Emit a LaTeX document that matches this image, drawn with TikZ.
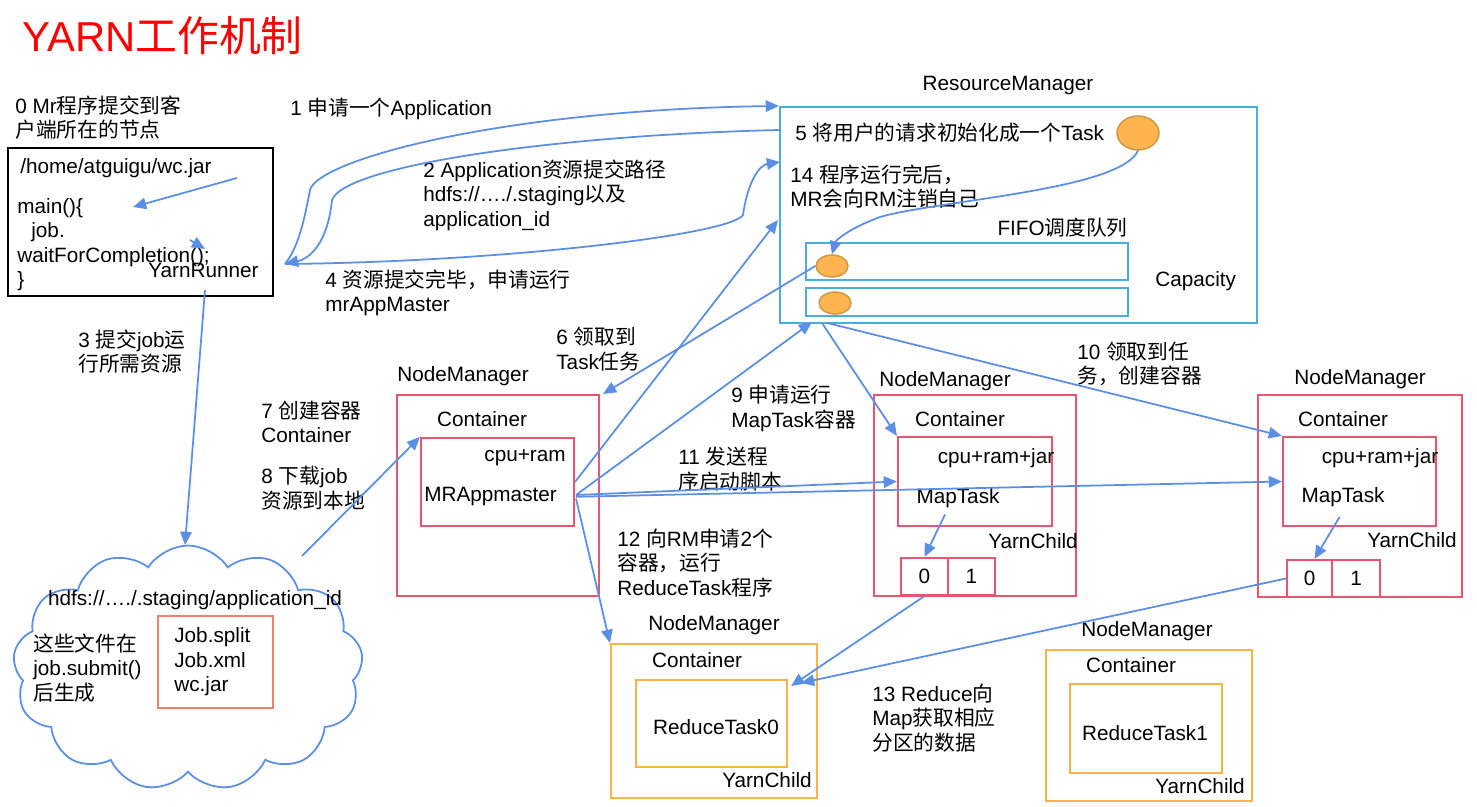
\documentclass[tikz,border=0pt]{standalone}
\usepackage{fontspec}
\setmainfont{Liberation Sans}
\newfontfamily\zhfont{Noto Sans CJK SC}
\newcommand{\zh}[1]{{\zhfont #1}}
\usetikzlibrary{arrows.meta,fit,shapes.geometric,shapes.symbols}
\definecolor{arrowblue}{RGB}{91,143,230}
\definecolor{rmblue}{RGB}{75,172,222}
\definecolor{nmred}{RGB}{232,85,110}
\definecolor{nmorange}{RGB}{248,180,70}
\definecolor{taskfill}{RGB}{255,180,80}
\definecolor{taskline}{RGB}{205,150,70}
\definecolor{jobred}{RGB}{238,130,105}
\definecolor{titlered}{RGB}{255,0,0}

\begin{document}
\begin{tikzpicture}[
    x=0.02cm, y=-0.02cm,
    every node/.style={font=\fontsize{11.8}{13.9}\selectfont, inner sep=0pt},
    txt/.style={anchor=west, align=left},
    rmbox/.style={draw=rmblue, line width=1.2pt},
    nmbox/.style={draw=nmred, line width=1.2pt},
    rbox/.style={draw=nmorange, line width=1.2pt},
    task/.style={ellipse, draw=taskline, fill=taskfill, line width=0.8pt},
    arr/.style={draw=arrowblue, line width=1pt, -{Triangle[length=7.5pt,width=6.5pt]}}
    ]
    \path[use as bounding box, fill=white] (0,0) rectangle (1477,807);
    \node[anchor=west, text=titlered, font=\fontsize{23.8}{28}\selectfont] (title) at (22,36) {YARN\zh{工作机制}};

    % client
    \node[txt] (step0) at (15,117.5) {0 Mr\zh{程序提交到客}\\\zh{户端所在的节点}};
    \node[draw=black, line width=1.4pt, fit={(8,148) (273,296)}] (client) {};
    \node[txt] (jar) at (20,168) {/home/atguigu/wc.jar};
    \node[txt] (code) at (17,244.5) {main()\{\\\hspace*{0.28cm}job.\\waitForCompletion();\\\}};
    \node[txt] (runner) at (148,270) {YarnRunner};

    % hdfs
    \node[cloud, draw=arrowblue, line width=1pt, cloud puffs=13, cloud puff arc=115, aspect=1.45,
          minimum width=7cm, minimum height=4.9cm] (hdfs) at (188,668) {};
    \node (staging) at (195,600) {hdfs://…./.staging/application\_id};
    \node[draw=jobred, line width=1.2pt, fit={(158,616) (273,708)}] (jobfiles) {};
    \node[txt] (files) at (174,662) {Job.split\\Job.xml\\wc.jar};
    \node[txt] (submit) at (33,668) {\zh{这些文件在}\\job.submit()\\\zh{后生成}};

    % resource manager
    \node (rmlabel) at (1008,86) {ResourceManager};
    \node[rmbox, fit={(780,107) (1257,323)}] (rm) {};
    \node[txt] (step5) at (795,133) {5 \zh{将用户的请求初始化成一个}Task};
    \node[task, minimum width=0.84cm, minimum height=0.68cm] (task) at (1138,133) {};
    \node[txt] (step14) at (790,186.5) {14 \zh{程序运行完后，}\\MR\zh{会向}RM\zh{注销自己}};
    \node[anchor=east] (fifo) at (1128,228) {FIFO\zh{调度队列}};
    \node[rmbox, fit={(806,243) (1128,280)}] (queue1) {};
    \node[rmbox, fit={(806,288) (1128,316)}] (queue2) {};
    \node[task, minimum width=0.64cm, minimum height=0.44cm] (job1) at (832,266) {};
    \node[task, minimum width=0.64cm, minimum height=0.44cm] (job2) at (835,303) {};
    \node[txt] (capacity) at (1155,281) {Capacity};

    % node manager with MRAppmaster
    \node (nmlabel1) at (463,376) {NodeManager};
    \node[nmbox, fit={(397,395) (599,596)}] (nm1) {};
    \node (cont1) at (482,419) {Container};
    \node[nmbox, fit={(421,438) (574,526)}] (mra) {};
    \node (res1) at (525,458) {cpu+ram};
    \node[txt] (mrapp) at (424,497) {MRAppmaster};

    % node managers with MapTask
    \node (nmlabel2) at (945,381) {NodeManager};
    \node[nmbox, fit={(874,395) (1076,596)}] (nm2) {};
    \node (cont2) at (960,419) {Container};
    \node[nmbox, fit={(898,437) (1052,526)}] (map1) {};
    \node (res2) at (996,458) {cpu+ram+jar};
    \node (maptask1) at (958,498) {MapTask};
    \node (child2) at (1033,541) {YarnChild};
    \node[nmbox, fit={(901,558) (948,595)}] (part10) {};
    \node[nmbox, fit={(948,558) (995,595)}] (part11) {};
    \node at (part10) {0};
    \node at (part11) {1};

    \node (nmlabel3) at (1360,379) {NodeManager};
    \node[nmbox, fit={(1258,395) (1462,597)}] (nm3) {};
    \node (cont3) at (1343,419) {Container};
    \node[nmbox, fit={(1283,437) (1436,526)}] (map2) {};
    \node (res3) at (1380,458) {cpu+ram+jar};
    \node (maptask2) at (1343,497) {MapTask};
    \node (child3) at (1412,540) {YarnChild};
    \node[nmbox, fit={(1287,560) (1332,597)}] (part20) {};
    \node[nmbox, fit={(1332,560) (1380,597)}] (part21) {};
    \node at (part20) {0};
    \node at (part21) {1};

    % node managers with ReduceTask
    \node (nmlabel4) at (714,625) {NodeManager};
    \node[rbox, fit={(611,644) (817,798)}] (nm4) {};
    \node (cont4) at (697,660) {Container};
    \node[rbox, fit={(636,680) (787,767)}] (reduce0) {};
    \node (rtask0) at (716,727) {ReduceTask0};
    \node (child4) at (767,780) {YarnChild};

    \node (nmlabel5) at (1147,631) {NodeManager};
    \node[rbox, fit={(1046,650) (1252,801)}] (nm5) {};
    \node (cont5) at (1131,665) {Container};
    \node[rbox, fit={(1070,684) (1222,773)}] (reduce1) {};
    \node (rtask1) at (1145,733) {ReduceTask1};
    \node (child5) at (1200,786) {YarnChild};

    % step labels
    \node[txt] (step1) at (290,109) {1 \zh{申请一个}Application};
    \node[txt] (step2) at (423,195) {2 Application\zh{资源提交路径}\\hdfs://…./.staging\zh{以及}\\application\_id};
    \node[txt] (step3) at (78,351.5) {3 \zh{提交}job\zh{运}\\\zh{行所需资源}};
    \node[txt] (step4) at (325,293) {4 \zh{资源提交完毕，申请运行}\\mrAppMaster};
    \node[txt] (step6) at (556,349) {6 \zh{领取到}\\Task\zh{任务}};
    \node[txt] (step7) at (261,422) {7 \zh{创建容器}\\Container};
    \node[txt] (step8) at (261,488) {8 \zh{下载}job\\\zh{资源到本地}};
    \node[txt] (step9) at (731,408.5) {9 \zh{申请运行}\\MapTask\zh{容器}};
    \node[txt] (step10) at (1077,364) {10 \zh{领取到任}\\\zh{务，创建容器}};
    \node[txt] (step11) at (678,469) {11 \zh{发送程}\\\zh{序启动脚本}};
    \node[txt] (step12) at (617,563) {12 \zh{向}RM\zh{申请}2\zh{个}\\\zh{容器，运行}\\ReduceTask\zh{程序}};
    \node[txt] (step13) at (872,718) {13 Reduce\zh{向}\\Map\zh{获取相应}\\\zh{分区的数据}};

    % free ends
    \coordinate (jarend) at (237,178);
    \coordinate (mainpt) at (133,207);
    \coordinate (callpt) at (190,240);
    \coordinate (runnerin) at (205,249);
    \coordinate (runnerout) at (285,264);
    \coordinate (runnerbot) at (205,290);
    \coordinate (hdfstop) at (185,545);
    \coordinate (hdfsright) at (302,556);
    \coordinate (rmin2) at (780,130);
    \coordinate (rmin4) at (780,162);
    \coordinate (rmin14) at (778,220);
    \coordinate (rmbot9) at (812,322);
    \coordinate (rmbot10) at (822,323);
    \coordinate (mraup) at (575,482);
    \coordinate (mraout) at (576,495);
    \coordinate (nm1corner) at (603,394);

    % connectors
    \draw[arr] (jarend) -- (mainpt);
    \draw[arr] (callpt) -- (runnerin);
    \draw[arr] (runnerout) .. controls (300,245) and (305,215) .. (310,190)
        .. controls (318,160) and (500,110) .. (rm.north west);
    \draw[arr] (rmin2) .. controls (560,135) and (345,165) .. (332,200)
        .. controls (328,240) and (312,258) .. (runnerout);
    \draw[arr] (runnerout) .. controls (500,262) and (730,235) .. (743,215)
        .. controls (748,180) and (760,165) .. (rmin4);
    \draw[arr] (runnerbot) -- (hdfstop);
    \draw[arr] (hdfsright) -- (mra.north west);
    \draw[arr] (task.south) .. controls (1120,190) and (940,200) .. (880,217)
        .. controls (850,228) and (836,240) .. (job1.north);
    \draw[arr] (job1.west) -- (nm1corner);
    \draw[arr] (mraup) -- (rmin14);
    \draw[arr] (mraout) -- (rmbot9);
    \draw[arr] (mraout) -- (map1.west);
    \draw[arr] ([yshift=-1pt]mraout) -- (map2.west);
    \draw[arr] ([yshift=-2pt]mraout) -- (nm4.north west);
    \draw[arr] (rmbot10) -- (map1.north west);
    \draw[arr] ([xshift=3pt]rmbot10) -- (map2.north west);
    \draw[arr] ([xshift=-0.6cm,yshift=0.25cm]map1.south) -- (part10.north);
    \draw[arr] ([xshift=-0.4cm,yshift=0.2cm]map2.south) -- ([xshift=0.1cm]part20.north);
    \draw[arr] (part10.south) -- ([xshift=0.06cm]reduce0.north east |- 0,686);
    \draw[arr] (part20.west) -- ([xshift=0.26cm]reduce0.north east |- 0,683);
\end{tikzpicture}
\end{document}
